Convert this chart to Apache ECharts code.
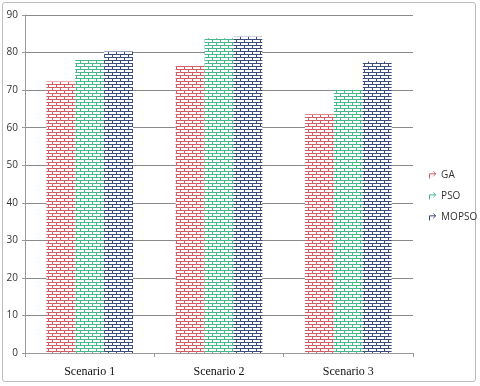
<!DOCTYPE html>
<html>
<head>
<meta charset="utf-8">
<script src="https://cdn.jsdelivr.net/npm/echarts@6/dist/echarts.min.js"></script>
<style>
  html, body { margin: 0; padding: 0; background: #fff; }
  #frame { position: absolute; left: 2px; top: 2px; width: 474px; height: 380px; border: 1px solid #bdbdbd; border-radius: 3px; box-sizing: border-box; }
  #chart { width: 480px; height: 386px; }
</style>
</head>
<body>
<div id="frame"></div>
<div id="chart"></div>
<script>
const categories = ['Scenario 1', 'Scenario 2', 'Scenario 3']
const seriesNames = ['GA', 'PSO', 'MOPSO']
const gaValues = [72.3, 76.4, 63.6]
const psoValues = [78.0, 83.8, 70.0]
const mopsoValues = [80.3, 84.2, 77.6]
const yTicks = [0, 10, 20, 30, 40, 50, 60, 70, 80, 90]

const colors = ['#d65c62', '#45b98c', '#3a4c7c']

// brick pattern on white
function brick(color) {
  const c = document.createElement('canvas')
  c.width = 8
  c.height = 6
  const ctx = c.getContext('2d')
  ctx.fillStyle = '#ffffff'
  ctx.fillRect(0, 0, 8, 6)
  ctx.fillStyle = color
  ctx.fillRect(0, 0, 8, 1)
  ctx.fillRect(0, 3, 8, 1)
  ctx.fillRect(0, 1, 1, 2)
  ctx.fillRect(4, 4, 1, 2)
  return c
}

const chart = echarts.init(document.getElementById('chart'))

const data = [gaValues, psoValues, mopsoValues]

chart.setOption({
  animation: false,
  grid: { left: 25, right: 67, top: 15, bottom: 33 },
  legend: {
    orient: 'vertical',
    left: 422,
    top: 164,
    itemWidth: 7,
    itemHeight: 7,
    itemGap: 9,
    textStyle: { fontFamily: 'Open Sans', fontSize: 10, color: '#333' },
    data: seriesNames.map((n, i) => ({
      name: n,
      icon: 'path://M0,10 L0,4 L8,4 M5,1 L8,4 L5,7',
      itemStyle: { color: 'none', borderColor: colors[i], borderWidth: 1 }
    }))
  },
  xAxis: {
    type: 'category',
    data: categories,
    axisLine: { lineStyle: { color: '#9a9a9a' } },
    axisTick: { show: true, length: 4, lineStyle: { color: '#9a9a9a' } },
    axisLabel: { fontFamily: 'Liberation Serif', fontSize: 12, color: '#111', margin: 13 }
  },
  yAxis: {
    type: 'value',
    min: yTicks[0],
    max: yTicks[yTicks.length - 1],
    interval: 10,
    axisLine: { show: true, lineStyle: { color: '#9a9a9a' } },
    axisTick: { show: true, length: 3, lineStyle: { color: '#9a9a9a' } },
    axisLabel: { fontFamily: 'Open Sans', fontSize: 10, color: '#333', margin: 7 },
    splitLine: { lineStyle: { color: '#8a8a8a' } }
  },
  series: seriesNames.map((name, i) => ({
    name,
    type: 'bar',
    data: data[i],
    barGap: '0%',
    barCategoryGap: '33%',
    itemStyle: { color: { image: brick(colors[i]), repeat: 'repeat' } }
  }))
})
</script>
</body>
</html>
